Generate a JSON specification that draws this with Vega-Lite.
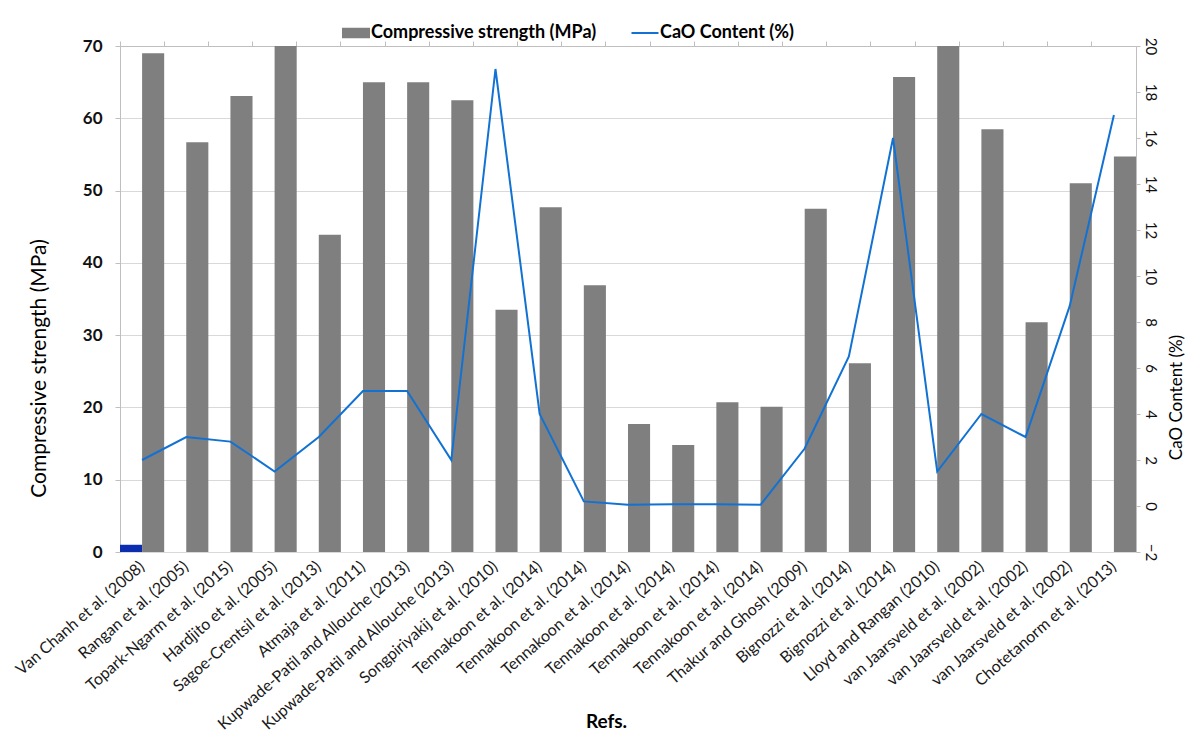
{
  "$schema": "https://vega.github.io/schema/vega-lite/v6.json",
  "width": 1016,
  "height": 506,
  "autosize": {"type": "none"},
  "padding": {"left": 120, "top": 46, "right": 56, "bottom": 188},
  "background": "white",
  "config": {"font": "Lato", "view": {"stroke": null}},
  "data": {
    "values": [
      {"ref": "01|Van Chanh et al. (2008)", "series": "Series 3", "value": 1},
      {"ref": "01|Van Chanh et al. (2008)", "series": "Compressive strength (MPa)", "value": 69},
      {"ref": "02|Rangan et al. (2005)", "series": "Compressive strength (MPa)", "value": 56.7},
      {"ref": "03|Topark-Ngarm et al. (2015)", "series": "Compressive strength (MPa)", "value": 63.1},
      {"ref": "04|Hardjito et al. (2005)", "series": "Compressive strength (MPa)", "value": 70},
      {"ref": "05|Sagoe-Crentsil et al. (2013)", "series": "Compressive strength (MPa)", "value": 43.9},
      {"ref": "06|Atmaja et al. (2011)", "series": "Compressive strength (MPa)", "value": 65},
      {"ref": "07|Kupwade-Patil and Allouche (2013)", "series": "Compressive strength (MPa)", "value": 65},
      {"ref": "08|Kupwade-Patil and Allouche (2013)", "series": "Compressive strength (MPa)", "value": 62.5},
      {"ref": "09|Songpiriyakij et al. (2010)", "series": "Compressive strength (MPa)", "value": 33.5},
      {"ref": "10|Tennakoon et al. (2014)", "series": "Compressive strength (MPa)", "value": 47.7},
      {"ref": "11|Tennakoon et al. (2014)", "series": "Compressive strength (MPa)", "value": 36.9},
      {"ref": "12|Tennakoon et al. (2014)", "series": "Compressive strength (MPa)", "value": 17.7},
      {"ref": "13|Tennakoon et al. (2014)", "series": "Compressive strength (MPa)", "value": 14.8},
      {"ref": "14|Tennakoon et al. (2014)", "series": "Compressive strength (MPa)", "value": 20.7},
      {"ref": "15|Tennakoon et al. (2014)", "series": "Compressive strength (MPa)", "value": 20.1},
      {"ref": "16|Thakur and Ghosh (2009)", "series": "Compressive strength (MPa)", "value": 47.5},
      {"ref": "17|Bignozzi et al. (2014)", "series": "Compressive strength (MPa)", "value": 26.1},
      {"ref": "18|Bignozzi et al. (2014)", "series": "Compressive strength (MPa)", "value": 65.7},
      {"ref": "19|Lloyd and Rangan (2010)", "series": "Compressive strength (MPa)", "value": 70},
      {"ref": "20|van Jaarsveld et al. (2002)", "series": "Compressive strength (MPa)", "value": 58.5},
      {"ref": "21|van Jaarsveld et al. (2002)", "series": "Compressive strength (MPa)", "value": 31.8},
      {"ref": "22|van Jaarsveld et al. (2002)", "series": "Compressive strength (MPa)", "value": 51},
      {"ref": "23|Chotetanorm et al. (2013)", "series": "Compressive strength (MPa)", "value": 54.7},
      {"ref": "01|Van Chanh et al. (2008)", "series": "CaO Content (%)", "value": 2},
      {"ref": "02|Rangan et al. (2005)", "series": "CaO Content (%)", "value": 3},
      {"ref": "03|Topark-Ngarm et al. (2015)", "series": "CaO Content (%)", "value": 2.8},
      {"ref": "04|Hardjito et al. (2005)", "series": "CaO Content (%)", "value": 1.5},
      {"ref": "05|Sagoe-Crentsil et al. (2013)", "series": "CaO Content (%)", "value": 3},
      {"ref": "06|Atmaja et al. (2011)", "series": "CaO Content (%)", "value": 5},
      {"ref": "07|Kupwade-Patil and Allouche (2013)", "series": "CaO Content (%)", "value": 5},
      {"ref": "08|Kupwade-Patil and Allouche (2013)", "series": "CaO Content (%)", "value": 2},
      {"ref": "09|Songpiriyakij et al. (2010)", "series": "CaO Content (%)", "value": 19},
      {"ref": "10|Tennakoon et al. (2014)", "series": "CaO Content (%)", "value": 4},
      {"ref": "11|Tennakoon et al. (2014)", "series": "CaO Content (%)", "value": 0.2},
      {"ref": "12|Tennakoon et al. (2014)", "series": "CaO Content (%)", "value": 0.05},
      {"ref": "13|Tennakoon et al. (2014)", "series": "CaO Content (%)", "value": 0.08},
      {"ref": "14|Tennakoon et al. (2014)", "series": "CaO Content (%)", "value": 0.08},
      {"ref": "15|Tennakoon et al. (2014)", "series": "CaO Content (%)", "value": 0.05},
      {"ref": "16|Thakur and Ghosh (2009)", "series": "CaO Content (%)", "value": 2.5},
      {"ref": "17|Bignozzi et al. (2014)", "series": "CaO Content (%)", "value": 6.5},
      {"ref": "18|Bignozzi et al. (2014)", "series": "CaO Content (%)", "value": 16},
      {"ref": "19|Lloyd and Rangan (2010)", "series": "CaO Content (%)", "value": 1.5},
      {"ref": "20|van Jaarsveld et al. (2002)", "series": "CaO Content (%)", "value": 4},
      {"ref": "21|van Jaarsveld et al. (2002)", "series": "CaO Content (%)", "value": 3},
      {"ref": "22|van Jaarsveld et al. (2002)", "series": "CaO Content (%)", "value": 8.7},
      {"ref": "23|Chotetanorm et al. (2013)", "series": "CaO Content (%)", "value": 17}
    ]
  },
  "layer": [
    {
      "transform": [{"filter": "datum.series != 'CaO Content (%)'"}],
      "mark": {"type": "bar"},
      "encoding": {
        "x": {
          "field": "ref", "type": "nominal",
          "scale": {"paddingInner": 0, "paddingOuter": 0},
          "axis": {
            "labelExpr": "split(datum.label, '|')[1]",
            "labelAngle": -41, "labelAlign": "right", "labelBaseline": "middle",
            "labelFont": "Lato", "labelFontSize": 16, "labelColor": "#1a1a1a",
            "labelPadding": 12, "labelOverlap": false, "labelLimit": 400,
            "ticks": false, "domain": false, "grid": false,
            "title": "Refs.", "titleFont": "Lato", "titleFontSize": 19, "titleFontWeight": "bold",
            "titleColor": "#000", "titleX": 486, "titleY": 160, "titleAlign": "center", "titleBaseline": "top"
          }
        },
        "xOffset": {
          "field": "series", "type": "nominal",
          "scale": {"domain": ["Series 3", "Compressive strength (MPa)"], "paddingInner": 0, "paddingOuter": 0}
        },
        "y": {
          "field": "value", "type": "quantitative",
          "scale": {"domain": [0, 70], "nice": false},
          "axis": {
            "values": [0, 10, 20, 30, 40, 50, 60, 70],
            "labelFont": "Lato", "labelFontSize": 17, "labelFontWeight": "bold", "labelColor": "#111",
            "labelPadding": 13, "tickSize": 5, "tickColor": "#bfbfbf", "domainColor": "#bfbfbf",
            "gridColor": "#d9d9d9",
            "title": "Compressive strength (MPa)", "titleFont": "Lato", "titleFontSize": 21,
            "titleFontWeight": "normal", "titleColor": "#000", "titlePadding": 33, "titleY": 322
          }
        },
        "color": {
          "field": "series", "type": "nominal",
          "scale": {
            "domain": ["Compressive strength (MPa)", "CaO Content (%)", "Series 3"],
            "range": ["#7f7f7f", "#1272d3", "#0b2db0"]
          },
          "legend": {
            "values": ["Compressive strength (MPa)", "CaO Content (%)"],
            "title": null, "orient": "none", "direction": "horizontal",
            "legendX": 225, "legendY": -24,
            "labelFont": "Lato", "labelFontSize": 18, "labelFontWeight": "bold", "labelColor": "#000",
            "labelLimit": 400, "columnPadding": 30, "symbolSize": 400, "labelOffset": 4,
            "encode": {
              "symbols": {
                "update": {
                  "shape": {"signal": "datum.value == 'CaO Content (%)' ? 'M-1.35,0H1.35' : 'M-1.3,-0.42H1.3V0.42H-1.3Z'"},
                  "fill": {"signal": "datum.value == 'CaO Content (%)' ? 'transparent' : '#7f7f7f'"},
                  "stroke": {"signal": "datum.value == 'CaO Content (%)' ? '#1272d3' : 'transparent'"},
                  "strokeWidth": {"value": 2},
                  "size": {"value": 400},
                  "opacity": {"value": 1}
                }
              }
            }
          }
        }
      }
    },
    {
      "transform": [{"filter": "datum.series == 'CaO Content (%)'"}],
      "mark": {"type": "line", "strokeWidth": 2},
      "encoding": {
        "x": {
          "field": "ref", "type": "nominal",
          "scale": {"paddingInner": 0, "paddingOuter": 0},
          "axis": {
            "labels": false, "title": null, "bandPosition": 0,
            "ticks": true, "tickSize": 5, "tickColor": "#bfbfbf",
            "domain": true, "domainColor": "#bfbfbf", "grid": false
          }
        },
        "y": {
          "field": "value", "type": "quantitative",
          "scale": {"domain": [-2, 20], "nice": false, "zero": false},
          "axis": {
            "orient": "right",
            "values": [-2, 0, 2, 4, 6, 8, 10, 12, 14, 16, 18, 20],
            "grid": false,
            "labelFont": "Lato", "labelFontSize": 15, "labelColor": "#111",
            "labelAngle": 90, "labelAlign": "center", "labelBaseline": "bottom",
            "labelPadding": 2, "tickSize": 4, "tickColor": "#bfbfbf", "domainColor": "#bfbfbf",
            "title": "CaO Content (%)", "titleFont": "Lato", "titleFontSize": 17,
            "titleFontWeight": "normal", "titleColor": "#000", "titleAngle": 270, "titlePadding": 28,
            "titleY": 351
          }
        },
        "color": {"field": "series", "type": "nominal"}
      }
    }
  ],
  "resolve": {"scale": {"y": "independent"}, "axis": {"x": "independent"}}
}
